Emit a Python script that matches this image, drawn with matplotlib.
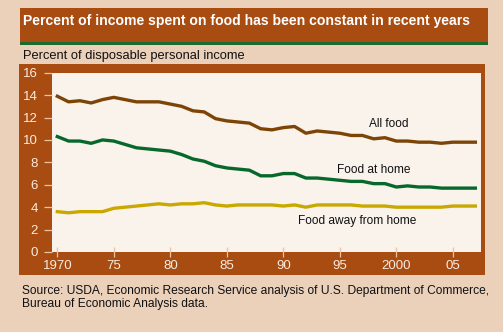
import numpy as np
import matplotlib
matplotlib.use("Agg")
import matplotlib.pyplot as plt
from matplotlib.patches import Rectangle

plt.rcParams['font.family'] = ['Liberation Sans', 'DejaVu Sans']

years = np.arange(1970, 2008)
all_food = [13.9, 13.4, 13.5, 13.3, 13.6, 13.8, 13.6, 13.4, 13.4, 13.4,
            13.2, 13.0, 12.6, 12.5, 11.9, 11.7, 11.6, 11.5, 11.0, 10.9,
            11.1, 11.2, 10.6, 10.8, 10.7, 10.6, 10.4, 10.4, 10.1, 10.2,
            9.9, 9.9, 9.8, 9.8, 9.7, 9.8, 9.8, 9.8]
food_at_home = [10.3, 9.9, 9.9, 9.7, 10.0, 9.9, 9.6, 9.3, 9.2, 9.1,
                9.0, 8.7, 8.3, 8.1, 7.7, 7.5, 7.4, 7.3, 6.8, 6.8,
                7.0, 7.0, 6.6, 6.6, 6.5, 6.4, 6.3, 6.3, 6.1, 6.1,
                5.8, 5.9, 5.8, 5.8, 5.7, 5.7, 5.7, 5.7]
food_away = [3.6, 3.5, 3.6, 3.6, 3.6, 3.9, 4.0, 4.1, 4.2, 4.3,
             4.2, 4.3, 4.3, 4.4, 4.2, 4.1, 4.2, 4.2, 4.2, 4.2,
             4.1, 4.2, 4.0, 4.2, 4.2, 4.2, 4.2, 4.1, 4.1, 4.1,
             4.0, 4.0, 4.0, 4.0, 4.0, 4.1, 4.1, 4.1]

xticks = [1970, 1975, 1980, 1985, 1990, 1995, 2000, 2005]
xticklabels = ['1970', '75', '80', '85', '90', '95', '2000', '05']
yticks = [0, 2, 4, 6, 8, 10, 12, 14, 16]

bg = '#ebd0ba'
rust = '#a84c12'
cream = '#f9f3ec'
tick_col = '#f9ece0'

W, H = 503, 332
fig = plt.figure(figsize=(W / 100, H / 100), dpi=100)
fig.patch.set_facecolor(bg)

def box(x0, y0, x1, y1, color):
    # pixel box measured from the top-left corner
    r = Rectangle((x0 / W, 1 - y1 / H), (x1 - x0) / W, (y1 - y0) / H,
                  transform=fig.transFigure, facecolor=color,
                  edgecolor='none', zorder=-2)
    fig.add_artist(r)

# title bar with the green rule underneath
box(20, 8, 488, 42, rust)
box(20, 42, 488, 44.5, '#1d6a2c')
fig.text(23 / W, 1 - 20.5 / H, 'Percent of income spent on food has been constant in recent years',
         color='white', fontsize=10.1, fontweight='bold', va='center', ha='left')
fig.text(23 / W, 1 - 56.5 / H, 'Percent of disposable personal income',
         color='#111111', fontsize=9.3, va='center', ha='left')

# frame behind the plot
box(19, 64, 485, 274.5, rust)

ax = fig.add_axes([52 / W, 1 - 252 / H, 429 / W, (252 - 72.7) / H])
ax.set_facecolor(cream)
ax.plot(years, all_food, color='#7c4507', lw=2.4, solid_joinstyle='round')
ax.plot(years, food_at_home, color='#08682c', lw=2.4, solid_joinstyle='round')
ax.plot(years, food_away, color='#c9a800', lw=2.4, solid_joinstyle='round')

ax.text(1999.3, 11.4, 'All food', fontsize=8.6, ha='center', va='center', color='#111111')
ax.text(1998.0, 7.3, 'Food at home', fontsize=8.6, ha='center', va='center', color='#111111')
ax.text(1996.5, 2.8, 'Food away from home', fontsize=8.6, ha='center', va='center', color='#111111')

ax.set_xlim(1969.53, 2007.5)
ax.set_ylim(0, 16)
ax.set_xticks(xticks)
ax.set_xticklabels(xticklabels)
ax.set_yticks(yticks)
for s in ax.spines.values():
    s.set_visible(False)
ax.tick_params(axis='y', direction='out', length=6, width=0.9, pad=4,
               colors='#e8c4a2', labelcolor=tick_col, labelsize=9.5)
ax.tick_params(axis='x', direction='inout', length=7, width=0.9, pad=2,
               colors='#e8c4a2', labelcolor=tick_col, labelsize=9.5)

fig.text(22 / W, 1 - 291 / H,
         'Source: USDA, Economic Research Service analysis of U.S. Department of Commerce,',
         fontsize=8.65, color='#111111', va='center', ha='left')
fig.text(22 / W, 1 - 304.5 / H, 'Bureau of Economic Analysis data.',
         fontsize=8.65, color='#111111', va='center', ha='left')

fig.savefig('out.png', dpi=100, facecolor=bg)
